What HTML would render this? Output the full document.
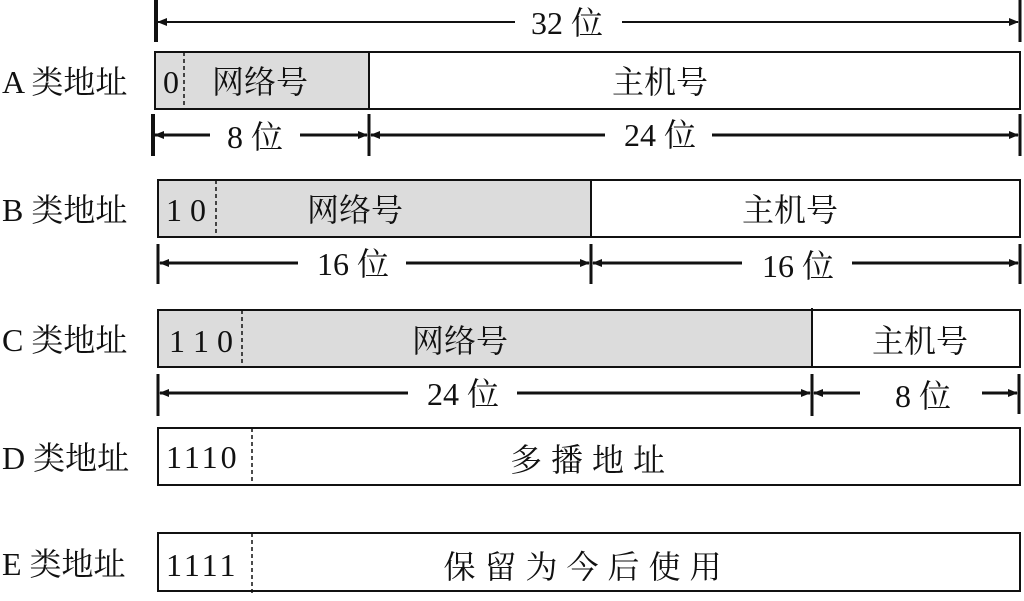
<!DOCTYPE html>
<html><head><meta charset="utf-8"><style>
body{margin:0;background:#fff;}
text{font-family:"Liberation Serif","Noto Serif CJK SC",serif;fill:#111;}
</style></head><body>
<svg width="1024" height="596" viewBox="0 0 1024 596" xmlns="http://www.w3.org/2000/svg">
<defs>
<marker id="a" markerWidth="10" markerHeight="8" refX="9" refY="4" orient="auto-start-reverse" markerUnits="userSpaceOnUse"><path d="M0,0 L10,4 L0,8 Z" fill="#111"/></marker>
</defs>
<g stroke="#111" fill="none">
<line x1="156" y1="0" x2="156" y2="42" stroke-width="4"/>
<line x1="1020" y1="0" x2="1020" y2="42" stroke-width="3"/>
<line x1="158" y1="22" x2="515" y2="22" stroke-width="2" marker-start="url(#a)"/>
<line x1="622" y1="22" x2="1018" y2="22" stroke-width="2" marker-end="url(#a)"/>
<rect x="155" y="52" width="214" height="57" fill="#dcdcdc" stroke="none"/>
<rect x="155" y="52" width="865" height="57" stroke-width="2"/>
<line x1="369" y1="52" x2="369" y2="109" stroke-width="2"/>
<line x1="184" y1="52" x2="184" y2="109" stroke-width="1.5" stroke-dasharray="4,3"/>
<line x1="153" y1="114" x2="153" y2="156" stroke-width="4"/>
<line x1="369" y1="114" x2="369" y2="156" stroke-width="3"/>
<line x1="1020" y1="114" x2="1020" y2="156" stroke-width="3"/>
<line x1="155" y1="135" x2="210" y2="135" stroke-width="3" marker-start="url(#a)"/>
<line x1="300" y1="135" x2="367" y2="135" stroke-width="3" marker-end="url(#a)"/>
<line x1="371" y1="135" x2="605" y2="135" stroke-width="3" marker-start="url(#a)"/>
<line x1="712" y1="135" x2="1018" y2="135" stroke-width="3" marker-end="url(#a)"/>
<rect x="158" y="180" width="433" height="57" fill="#dcdcdc" stroke="none"/>
<rect x="158" y="180" width="862" height="57" stroke-width="2"/>
<line x1="591" y1="180" x2="591" y2="237" stroke-width="2"/>
<line x1="216" y1="180" x2="216" y2="237" stroke-width="1.5" stroke-dasharray="4,3"/>
<line x1="158" y1="244" x2="158" y2="284" stroke-width="3"/>
<line x1="591" y1="244" x2="591" y2="284" stroke-width="3"/>
<line x1="1020" y1="244" x2="1020" y2="284" stroke-width="3"/>
<line x1="160" y1="263" x2="298" y2="263" stroke-width="3" marker-start="url(#a)"/>
<line x1="406" y1="263" x2="589" y2="263" stroke-width="3" marker-end="url(#a)"/>
<line x1="593" y1="263" x2="742" y2="263" stroke-width="3" marker-start="url(#a)"/>
<line x1="852" y1="263" x2="1018" y2="263" stroke-width="3" marker-end="url(#a)"/>
<rect x="158" y="310" width="654" height="57" fill="#dcdcdc" stroke="none"/>
<rect x="158" y="310" width="862" height="57" stroke-width="2"/>
<line x1="812" y1="308" x2="812" y2="367" stroke-width="2"/>
<line x1="242" y1="310" x2="242" y2="367" stroke-width="1.5" stroke-dasharray="4,3"/>
<line x1="158" y1="374" x2="158" y2="416" stroke-width="3"/>
<line x1="812" y1="374" x2="812" y2="416" stroke-width="3"/>
<line x1="1019" y1="374" x2="1019" y2="414" stroke-width="3"/>
<line x1="160" y1="393" x2="408" y2="393" stroke-width="3" marker-start="url(#a)"/>
<line x1="517" y1="393" x2="810" y2="393" stroke-width="3" marker-end="url(#a)"/>
<line x1="814" y1="393" x2="860" y2="393" stroke-width="3" marker-start="url(#a)"/>
<line x1="982" y1="393" x2="1017" y2="393" stroke-width="3" marker-end="url(#a)"/>
<rect x="158" y="428" width="862" height="57" stroke-width="2"/>
<line x1="252" y1="428" x2="252" y2="485" stroke-width="1.5" stroke-dasharray="4,3"/>
<rect x="158" y="533" width="862" height="58" stroke-width="2"/>
<line x1="252" y1="533" x2="252" y2="596" stroke-width="1.5" stroke-dasharray="4,3"/>
</g>
<g font-size="32">
<text x="567" y="34" text-anchor="middle">32 位</text>
<text x="2" y="93">A 类地址</text>
<text x="2" y="221">B 类地址</text>
<text x="2" y="351">C 类地址</text>
<text x="2" y="469">D 类地址</text>
<text x="2" y="575">E 类地址</text>
<text x="171" y="93" text-anchor="middle">0</text>
<text x="260" y="93" text-anchor="middle">网络号</text>
<text x="660" y="93" text-anchor="middle">主机号</text>
<text x="255" y="148" text-anchor="middle">8 位</text>
<text x="660" y="146" text-anchor="middle">24 位</text>
<text x="186" y="221" text-anchor="middle">1 0</text>
<text x="355" y="221" text-anchor="middle">网络号</text>
<text x="790" y="221" text-anchor="middle">主机号</text>
<text x="353" y="275" text-anchor="middle">16 位</text>
<text x="798" y="277" text-anchor="middle">16 位</text>
<text x="201" y="352" text-anchor="middle">1 1 0</text>
<text x="460" y="352" text-anchor="middle">网络号</text>
<text x="920" y="352" text-anchor="middle">主机号</text>
<text x="463" y="405" text-anchor="middle">24 位</text>
<text x="923" y="407" text-anchor="middle">8 位</text>
<text x="166" y="468" letter-spacing="3">1110</text>
<text x="592" y="471" text-anchor="middle" letter-spacing="9">多播地址</text>
<text x="166" y="576" letter-spacing="3">1111</text>
<text x="587" y="578" text-anchor="middle" letter-spacing="9">保留为今后使用</text>
</g>
</svg>
</body></html>
